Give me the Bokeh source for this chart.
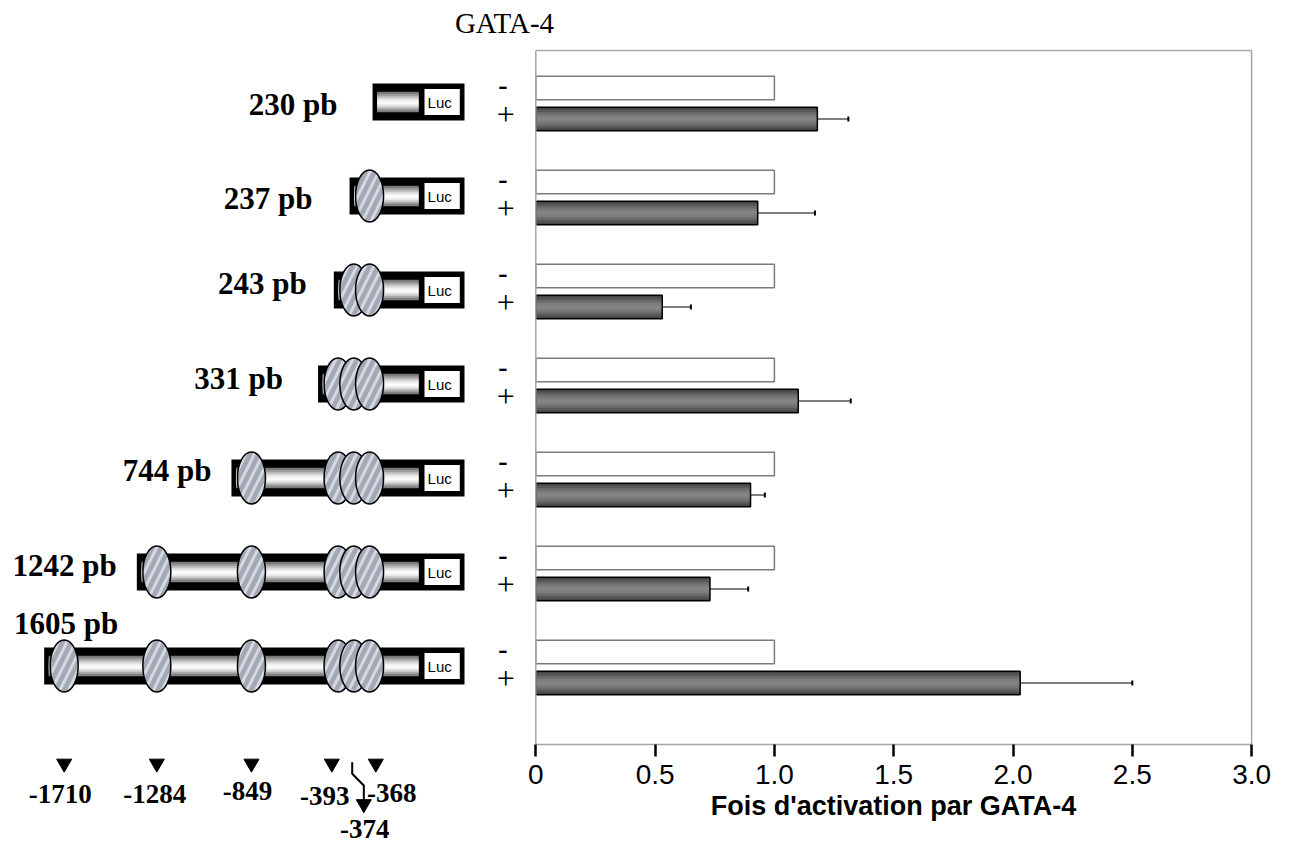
import numpy as np
from bokeh.plotting import figure
from bokeh.models import Range1d, LinearAxis, FixedTicker, CustomJSTickFormatter
from bokeh.core.properties import value
from bokeh.embed import file_html
from bokeh.resources import INLINE

# ----------------------------- data -----------------------------
CONSTRUCTS = ["230 pb", "237 pb", "243 pb", "331 pb", "744 pb", "1242 pb", "1605 pb"]
GATA_SITES = [-1710, -1284, -849, -393, -374, -368]
SITE_LABELS = ["-1710", "-1284", "-849", "-393", "-374", "-368"]
SITES_IN_CONSTRUCT = [
    [],
    [-368],
    [-374, -368],
    [-393, -374, -368],
    [-849, -393, -374, -368],
    [-1284, -849, -393, -374, -368],
    [-1710, -1284, -849, -393, -374, -368],
]
FOLD_MINUS = [1.00, 1.00, 1.00, 1.00, 1.00, 1.00, 1.00]
FOLD_PLUS = [1.18, 0.93, 0.53, 1.10, 0.90, 0.73, 2.03]
FOLD_PLUS_ERR = [0.13, 0.24, 0.12, 0.22, 0.06, 0.16, 0.47]
CONDITIONS = ["-", "+"]
X_TICKS = [0, 0.5, 1.0, 1.5, 2.0, 2.5, 3.0]
X_TICK_LABELS = ["0", "0.5", "1.0", "1.5", "2.0", "2.5", "3.0"]
X_TITLE = "Fois d'activation par GATA-4"
HEADER = "GATA-4"
REPORTER = "Luc"

# ----------------------------- layout (pixels) -----------------------------
W, H = 1300, 852
VAL0_PX, VAL_PX = 535.3, 238.6      # x of activation 0, px per unit
ROW0_PX, ROW_PX = 103.0, 94.0       # y of first construct, px per construct
BP0_PX, BP_PX = 435.6, 0.2175       # schematic: x of 0 bp, px per bp


def ypx(d):
    return d / ROW_PX


def bpx(d):
    return d / BP_PX


def vpx(d):
    return d / VAL_PX


def yrow(cy):
    return (cy - ROW0_PX) / ROW_PX


SERIF = value("Liberation Serif")
SANS = value("Liberation Sans")

p = figure(width=W, height=H,
           x_range=Range1d(-VAL0_PX / VAL_PX, (W - VAL0_PX) / VAL_PX),
           y_range=Range1d((H - ROW0_PX) / ROW_PX, -ROW0_PX / ROW_PX),
           x_axis_type=None, y_axis_type=None, toolbar_location=None,
           output_backend="svg", min_border=0, outline_line_color=None)
p.extra_x_ranges = {"bp": Range1d(-BP0_PX / BP_PX, (W - BP0_PX) / BP_PX)}


def spread(positions, min_gap):
    pos = sorted(positions)
    groups = [[pos[0]]]
    for v in pos[1:]:
        if v - groups[-1][-1] < min_gap:
            groups[-1].append(v)
        else:
            groups.append([v])
    out = {}
    for g in groups:
        c = float(np.mean(g))
        n = len(g)
        for i, v in enumerate(g):
            out[v] = c + (i - (n - 1) / 2) * min_gap
    return out


site_x = spread(GATA_SITES, bpx(15.75))
mark_x = spread(GATA_SITES, bpx(22))

rows = np.arange(len(CONSTRUCTS), dtype=float)
yc = rows - ypx(1.5)

OUTER_RIGHT = bpx(28.4)
INNER_RIGHT = bpx(-17.3)
LUC_L, LUC_R = bpx(-11.6), bpx(23.7)
starts = []
for s in SITES_IN_CONSTRUCT:
    if s:
        starts.append(min(site_x[v] for v in s) - bpx(20))
    else:
        starts.append(max(site_x.values()) + bpx(3))
starts = np.array(starts)

# construct body
p.hbar(y=yc, left=starts, right=OUTER_RIGHT, height=ypx(37), fill_color="black",
       line_color=None, x_range_name="bp")
GRAD = ["#767676", "#979797", "#bababa", "#dadada", "#f1f1f1",
        "#fcfcfc", "#efefef", "#d2d2d2", "#aaaaaa", "#808080"]
for i, col in enumerate(GRAD):
    p.hbar(y=yc + ypx((i - 4.5) * 2.0), left=starts + bpx(4.5), right=INNER_RIGHT,
           height=ypx(2.4), fill_color=col, line_color=None, x_range_name="bp")
p.hbar(y=yc, left=LUC_L, right=LUC_R, height=ypx(26), fill_color="white",
       line_color=None, x_range_name="bp")
p.text(x=(LUC_L + LUC_R) / 2 - bpx(2.5), y=yc, text=[REPORTER] * len(CONSTRUCTS),
       text_align="center", text_baseline="middle", text_font=SANS,
       text_font_size="15px", x_range_name="bp")

# GATA sites
ex, ey = [], []
for r, s in zip(yc, SITES_IN_CONSTRUCT):
    for v in sorted(s):
        ex.append(site_x[v])
        ey.append(r)
p.ellipse(x=ex, y=ey, width=28, height=52, width_units="screen", height_units="screen",
          fill_color="#a2a8b6", line_color="black", line_width=1.5,
          hatch_pattern="/", hatch_color="white", hatch_alpha=0.55, hatch_scale=17,
          hatch_weight=3, x_range_name="bp")

# construct names (digit centre relative to the row centre)
LABEL_GAP_PX = [35, 37, 27, 35, 20, 20, -74]
LABEL_DY_PX = [1, 1, -8, -7, -9, -8, -44]
p.text(x=starts - bpx(np.array(LABEL_GAP_PX, dtype=float)),
       y=rows + ypx(np.array(LABEL_DY_PX, dtype=float)), text=CONSTRUCTS,
       text_align="right", text_baseline="middle", text_font=SERIF,
       text_font_style="bold", text_font_size="31px", x_range_name="bp")

# site markers below
MARKER_STYLE = ["tri", "tri", "tri", "tri", "arrow", "tri"]
MARK_LABEL_DX = [-4, -2, -4, -7, 11, 16]
MARK_LABEL_Y = [793, 793, 790, 795, 828, 792]
tri = [mark_x[s] for s, st in zip(GATA_SITES, MARKER_STYLE) if st == "tri"]
p.scatter(x=tri, y=yrow(763), marker="inverted_triangle", size=15, color="black",
          x_range_name="bp")
p.text(x=[mark_x[s] + bpx(dx) for s, dx in zip(GATA_SITES, MARK_LABEL_DX)],
       y=[yrow(b) for b in MARK_LABEL_Y], text=SITE_LABELS, text_align="center",
       text_baseline="middle", text_font=SERIF, text_font_style="bold",
       text_font_size="27px", x_range_name="bp")
ARROW_DX = [-1.6, -1.6, 10, 10]
ARROW_Y = [761.7, 773.3, 785, 800]
for s, st in zip(GATA_SITES, MARKER_STYLE):
    if st == "arrow":
        m = mark_x[s]
        p.line(x=[m + bpx(d) for d in ARROW_DX], y=[yrow(v) for v in ARROW_Y],
               line_color="black", line_width=2, x_range_name="bp")
        p.scatter(x=[m + bpx(10)], y=[yrow(803.5)], marker="inverted_triangle", size=15,
                  color="black", x_range_name="bp")

# bars
y_minus = rows - ypx(15.5)
y_plus = rows + ypx(15.5)
bh = ypx(23.5)
p.hbar(y=y_minus, left=0, right=FOLD_MINUS, height=bh, fill_color="white",
       line_color="#7a7a7a", line_width=1.5)
for frac, col in zip([1.0, 0.8, 0.6, 0.4, 0.2],
                     ["#454545", "#585858", "#6a6a6a", "#797979", "#848484"]):
    p.hbar(y=y_plus, left=0, right=FOLD_PLUS, height=bh * frac, fill_color=col,
           line_color=None)
p.hbar(y=y_plus, left=0, right=FOLD_PLUS, height=bh, fill_color=None,
       line_color="black", line_width=1.5)
tops = np.array(FOLD_PLUS) + np.array(FOLD_PLUS_ERR)
p.segment(x0=FOLD_PLUS, x1=tops, y0=y_plus, y1=y_plus, line_color="black", line_width=1)
p.segment(x0=tops, x1=tops, y0=y_plus - ypx(2.5), y1=y_plus + ypx(2.5),
          line_color="black", line_width=2)

# condition labels
p.text(x=vpx(-33), y=y_minus - ypx(3), text=[CONDITIONS[0]] * len(CONSTRUCTS),
       text_align="center", text_baseline="middle", text_font=SERIF,
       text_font_style="bold", text_font_size="28px")
p.text(x=vpx(-30), y=y_plus - ypx(5), text=[CONDITIONS[1]] * len(CONSTRUCTS),
       text_align="center", text_baseline="middle", text_font=SERIF,
       text_font_size="32px")

# header
p.text(x=[vpx(-31.3)], y=[yrow(22)], text=[HEADER], text_align="center",
       text_baseline="middle", text_font=SERIF, text_font_size="29px")

# plot frame
y_top, y_axis = yrow(50), yrow(744)
x_lo, x_hi = X_TICKS[0], X_TICKS[-1]
p.segment(x0=[x_lo, x_hi, x_lo], y0=[y_top, y_top, y_top],
          x1=[x_lo, x_hi, x_hi], y1=[y_axis, y_axis, y_top],
          line_color="#a6a6a6", line_width=1.5)

xaxis = LinearAxis(
    fixed_location=y_axis, bounds=(x_lo, x_hi),
    ticker=FixedTicker(ticks=X_TICKS, minor_ticks=[]),
    formatter=CustomJSTickFormatter(
        args=dict(tv=X_TICKS, tl=X_TICK_LABELS),
        code="const i = tv.findIndex(t => Math.abs(t - tick) < 1e-9); return i >= 0 ? tl[i] : String(tick);"),
    axis_label=X_TITLE,
)
xaxis.axis_line_color = "#a6a6a6"
xaxis.axis_line_width = 1.5
xaxis.major_tick_line_color = "black"
xaxis.major_tick_line_width = 2.5
xaxis.major_tick_in = 0
xaxis.major_tick_out = 12
xaxis.minor_tick_line_color = None
xaxis.major_label_text_font = "Liberation Sans"
xaxis.major_label_text_font_size = "28px"
xaxis.major_label_text_color = "black"
xaxis.major_label_standoff = 8
xaxis.axis_label_text_font = "Liberation Sans"
xaxis.axis_label_text_font_style = "bold"
xaxis.axis_label_text_font_size = "27px"
xaxis.axis_label_text_color = "black"
xaxis.axis_label_standoff = 4
p.add_layout(xaxis, "below")

open("out.html", "w").write(file_html(p, INLINE))
